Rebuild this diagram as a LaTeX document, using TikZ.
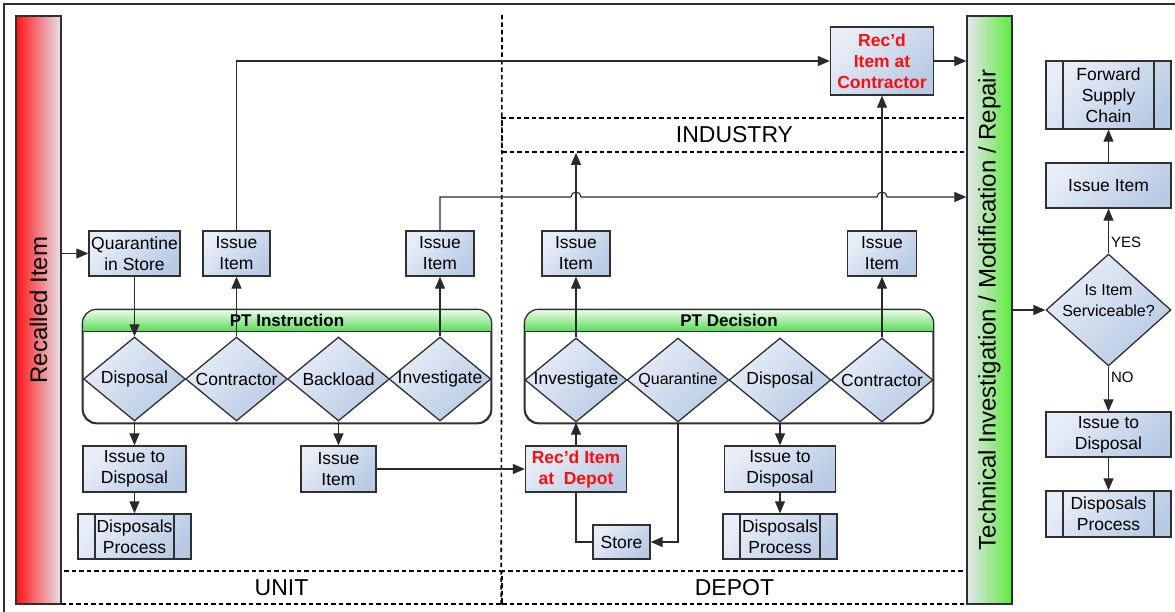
\documentclass[tikz,border=0pt]{standalone}
\usepackage{fontspec}
\setmainfont{Liberation Sans}
\usetikzlibrary{arrows.meta,shapes.geometric}

\definecolor{boxtop}{HTML}{E8EEF8}
\definecolor{boxbot}{HTML}{B8CAE4}
\definecolor{boxline}{HTML}{303030}
\definecolor{linec}{HTML}{2A2A2A}
\definecolor{redl}{HTML}{FF1414}
\definecolor{redr}{HTML}{E6E2EE}
\definecolor{grnl}{HTML}{E6E6EE}
\definecolor{grnr}{HTML}{5CEB3C}
\definecolor{hdgrn}{HTML}{55DD55}
\definecolor{hdpale}{HTML}{F0FCF0}
\definecolor{recred}{HTML}{FF0D0D}

\newcommand{\dtxt}[1]{\makebox[0pt]{#1}}

\begin{document}
\begin{tikzpicture}[x=1pt,y=-1pt,
		txt/.style={font=\fontsize{17.5}{21}\selectfont},
		box/.style={rectangle, draw=boxline, line width=1.3pt, top color=boxtop, bottom color=boxbot, shading angle=45, inner sep=0pt, align=center, txt},
		sub/.style={box, path picture={
			\draw[boxline, line width=1.3pt] ([xshift=17pt]path picture bounding box.north west) -- ([xshift=17pt]path picture bounding box.south west);
			\draw[boxline, line width=1.3pt] ([xshift=-17pt]path picture bounding box.north east) -- ([xshift=-17pt]path picture bounding box.south east);}},
		dec/.style={diamond, draw=boxline, line width=1.3pt, top color=boxtop, bottom color=boxbot, shading angle=45, minimum width=102pt, minimum height=84pt, inner sep=0pt, txt},
		panel/.style={rectangle, draw=boxline, line width=1.3pt, rounded corners=14pt, minimum width=408pt, minimum height=113pt, inner sep=0pt},
		hdr/.style={top color=hdpale, bottom color=hdgrn},
		bar/.style={rectangle, draw=boxline, line width=1.3pt, minimum width=45pt, minimum height=588pt, inner sep=0pt},
		dashes/.style={draw=black, dash pattern=on 4.5pt off 3pt, line width=1.6pt},
		zone/.style={dashes, inner sep=0pt, font=\fontsize{23}{26}\selectfont},
		rd/.style={box, text=recred, font=\fontsize{17.5}{21}\selectfont\bfseries},
		lbl/.style={font=\fontsize{15}{18}\selectfont, inner sep=2pt},
		ln/.style={draw=linec, line width=1.1pt},
		arr/.style={ln, -{Triangle[length=12pt,width=10pt]}}]
	\useasboundingbox (0,0) rectangle (1175,612);
	\draw[boxline, line width=1.3pt] (4,612) -- (4,4) -- (1175,4);

	% zones
	\node[zone, minimum width=441pt, minimum height=33pt] (unit) at (281.5,587.5) {UNIT};
	\node[zone, minimum width=465pt, minimum height=33pt] (depot) at (734.5,587.5) {DEPOT};
	\node[zone, minimum width=465pt, minimum height=34pt] (industry) at (734.5,135) {INDUSTRY};
	\draw[dashes] (502,15) -- (depot.south west);

	% side bars
	\node[bar, left color=redl, right color=redr] (rec) at (38.5,310) {};
	\node[rotate=90, font=\fontsize{24}{28}\selectfont] (rectxt) at (rec) {Recalled Item};
	\node[bar, left color=grnl, right color=grnr] (tech) at (989.5,310) {};
	\node[rotate=90, font=\fontsize{24}{28}\selectfont] (techtxt) at (tech) {Technical Investigation / Modification / Repair};

	% panels with green headers
	\foreach \p/\px in {pti/287, ptd/729} {
		\node[panel] (\p) at (\px,366.5) {};
		\begin{scope}
			\clip[rounded corners=14pt] (\p.north west) rectangle (\p.south east);
			\shade[hdr] (\p.north west) rectangle ([yshift=-22pt]\p.north east);
		\end{scope}
		\draw[boxline, line width=1.3pt, rounded corners=14pt] (\p.north west) rectangle (\p.south east);
		\draw[boxline, line width=1.3pt] ([yshift=-22pt]\p.north west) -- ([yshift=-22pt]\p.north east);
	}
	\node[font=\fontsize{17}{20}\selectfont\bfseries] (ptitxt) at ([yshift=-11pt]pti.north) {PT Instruction};
	\node[font=\fontsize{17}{20}\selectfont\bfseries] (ptdtxt) at ([yshift=-11pt]ptd.north) {PT Decision};

	% unit
	\node[box, minimum width=91pt, minimum height=45pt] (qis) at (134.5,253.5) {Quarantine\\in Store};
	\node[box, minimum width=67pt, minimum height=45pt] (ii1) at (236.5,253.5) {Issue\\Item};
	\node[box, minimum width=68pt, minimum height=45pt] (ii2) at (440,253.5) {Issue\\Item};
	\node[dec] (dis1) at (134.5,379) {\dtxt{Disposal}};
	\node[dec] (con1) at (236.5,379) {\dtxt{Contractor}};
	\node[dec] (bkl) at (338.5,379) {\dtxt{Backload}};
	\node[dec] (inv1) at (440,379) {\dtxt{Investigate}};
	\node[box, minimum width=103pt, minimum height=46pt] (itd1) at (134.5,469) {Issue to\\Disposal};
	\node[box, minimum width=75pt, minimum height=46pt] (ii5) at (338.5,469) {Issue\\Item};
	\node[sub, minimum width=113pt, minimum height=45pt] (dp1) at (134.5,536.5) {Disposals\\Process};

	% depot
	\node[box, minimum width=68pt, minimum height=45pt] (ii3) at (576,253.5) {Issue\\Item};
	\node[box, minimum width=69pt, minimum height=45pt] (ii4) at (882,253.5) {Issue\\Item};
	\node[rd, minimum width=103pt, minimum height=68pt] (rcon) at (882,61) {Rec’d\\Item at\\Contractor};
	\node[dec] (inv2) at (576,380) {\dtxt{Investigate}};
	\node[dec, font=\fontsize{16}{19}\selectfont] (quar) at (678,380) {\dtxt{Quarantine}};
	\node[dec] (dis2) at (780,380) {\dtxt{Disposal}};
	\node[dec] (con2) at (882,380) {\dtxt{Contractor}};
	\node[rd, minimum width=101pt, minimum height=46pt] (rdep) at (576,469) {Rec’d Item\\at\ \ Depot};
	\node[box, minimum width=111pt, minimum height=46pt] (itd2) at (780,469) {Issue to\\Disposal};
	\node[sub, minimum width=114pt, minimum height=45pt] (dp2) at (780,536.5) {Disposals\\Process};
	\node[box, minimum width=57pt, minimum height=34pt] (store) at (621.5,542) {Store};

	% right side
	\node[sub, minimum width=125pt, minimum height=68pt] (fsc) at (1108.5,95) {Forward\\Supply\\Chain};
	\node[box, minimum width=125pt, minimum height=45pt] (ii6) at (1108.5,185.5) {Issue Item};
	\node[dec, minimum width=125pt, minimum height=112pt] (serv) at (1108.5,310) {};
	\node[font=\fontsize{16}{21}\selectfont, align=center] (servtxt) at ([yshift=9pt]serv.center) {Is Item\\Serviceable?};
	\node[box, minimum width=125pt, minimum height=45pt] (itd3) at (1108.5,434.5) {Issue to\\Disposal};
	\node[sub, minimum width=125pt, minimum height=46pt] (dp3) at (1108.5,514) {Disposals\\Process};

	% connectors
	\coordinate (hop) at (0,197);
	\draw[arr] (rec.east |- qis) -- (qis.west);
	\draw[arr] (qis.south) -- (dis1.north);
	\draw[arr] (con1.north) -- (ii1.south);
	\draw[arr] (inv1.north) -- (ii2.south);
	\draw[arr] (dis1.south) -- (itd1.north);
	\draw[arr] (itd1.south) -- (dp1.north);
	\draw[arr] (bkl.south) -- (ii5.north);
	\draw[arr] (ii5.east) -- (rdep.west);
	\draw[arr] (ii1.north) |- (rcon.west);
	\draw[arr] (rcon.east) -- (tech.west |- rcon);
	\draw[arr] (ii2.north) -- (ii2.north |- hop) -- ([xshift=-5pt]ii3.north |- hop) arc[start angle=180, end angle=0, radius=5pt]
		-- ([xshift=-5pt]ii4.north |- hop) arc[start angle=180, end angle=0, radius=5pt] -- (tech.west |- hop);
	\draw[arr] (ii3.north) -- (ii3.north |- industry.south);
	\draw[arr] (ii4.north) -- (rcon.south);
	\draw[arr] (inv2.north) -- (ii3.south);
	\draw[arr] (con2.north) -- (ii4.south);
	\draw[arr] (rdep.north) -- (inv2.south);
	\draw[arr] (quar.south) |- (store.east);
	\draw[ln] (store.west) -| (rdep.south);
	\draw[arr] (dis2.south) -- (itd2.north);
	\draw[arr] (itd2.south) -- (dp2.north);
	\draw[arr] (tech.east |- serv) -- (serv.west);
	\draw[arr] (serv.north) -- node[lbl, right, pos=0.25] (yes) {YES} (ii6.south);
	\draw[arr] (ii6.north) -- (fsc.south);
	\draw[arr] (serv.south) -- node[lbl, right, pos=0.25] (no) {NO} (itd3.north);
	\draw[arr] (itd3.south) -- (dp3.north);
\end{tikzpicture}
\end{document}
